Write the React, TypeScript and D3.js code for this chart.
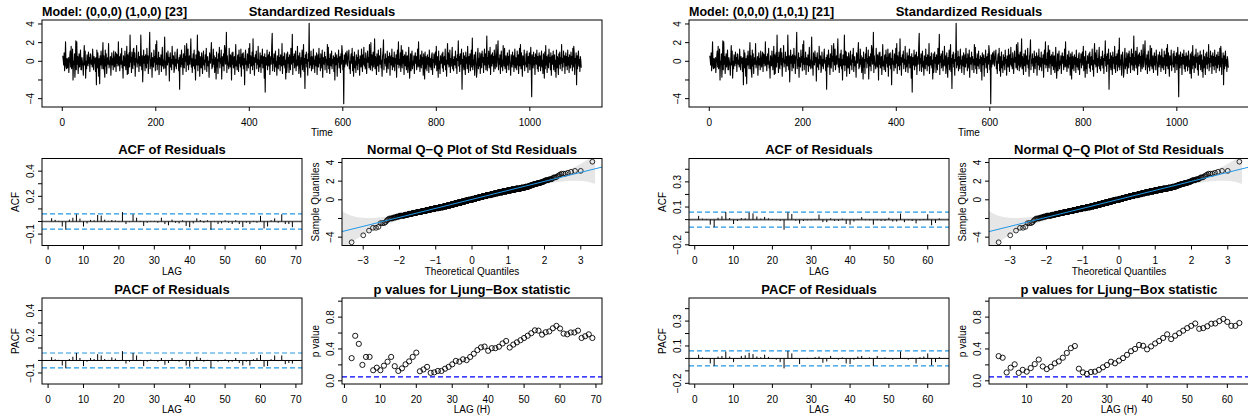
import React from 'react';
import * as d3 from 'd3';

// --- data (two sarima fits, residual strips look the same) ---
const stdResiduals: number[] = [
  0.6, 0.2, -0.4, 0.9, -1.0, 0.1, 2.1, -0.5, -0.8, 0.3, -0.7, 0.0, 0.4, -1.2, -0.2, 0.5, 1.1, -0.6, 1.6, -0.8, -0.1, 1.3, -2.0, 0.0, -0.3, 0.8, -1.7, -0.2, 2.2, -0.9,
  2.1, -0.3, 0.5, -1.3, 0.1, 0.8, -0.6, 0.2, 1.2, -0.9, -0.9, 0.4, 0.0, -0.5, -1.5, 0.3, 1.7, -0.4, 1.1, -1.8, 0.0, -0.8, 0.7, -0.1, -0.5, 1.0, -0.2, 0.4, -1.1, 0.8,
  0.7, -0.3, 0.1, -0.6, 1.3, 0.0, -0.9, 0.5, -0.2, 0.3, -1.1, 0.4, -2.5, 1.2, -0.7, 0.9, -0.1, -1.6, 0.3, -2.4, 0.6, -0.4, 1.1, 0.0, -0.8, 0.5, 2.0, -0.8, 0.6, -1.0,
  -1.7, 1.2, -0.5, 0.8, -1.3, 0.1, 0.4, -0.3, 1.9, -0.7, -0.3, -0.1, 0.5, -1.5, 0.0, 0.9, -0.4, 0.3, -0.9, 1.1, 0.0, -0.6, 0.4, 1.0, -1.1, 0.8, -0.2, 0.7, -0.5, 2.1,
  -0.4, 0.5, -1.0, 0.1, 0.8, -0.3, 1.4, -0.7, 0.0, -1.8, 0.6, -0.2, -0.5, 1.1, 0.0, -0.9, 0.3, 1.6, -1.4, 0.7, -1.3, 0.2, 0.9, -0.6, 2.8, -0.1, 0.4, -1.2, 1.0, -0.3,
  -0.8, 1.3, 1.4, -0.4, 0.9, -1.6, 0.3, -0.1, 1.7, -0.6, 0.1, -0.2, 1.0, -1.1, 0.5, 0.0, -0.5, 2.8, 0.4, -0.9, 0.6, -2.2, -0.3, 1.2, -0.2, 0.5, -1.0, 0.7, 0.0, -0.7,
  1.4, -0.2, 0.6, -1.3, 0.1, 0.8, 3.1, -0.8, 0.2, -0.5, 0.9, -1.7, 0.4, 0.0, -0.6, 1.2, -0.1, 0.5, -1.0, 1.8, -0.3, 2.2, -0.9, 0.3, -0.3, 1.0, -1.4, 0.4, 0.0, -0.4,
  0.7, -1.1, 0.2, 1.5, -0.5, 0.1, -0.8, 0.5, 2.6, -0.7, 0.0, -1.5, 0.9, -0.2, -0.4, 1.1, -0.1, 0.4, -2.1, 0.3, 0.9, -0.6, 0.2, -0.9, 1.6, 0.0, -0.3, 0.6, -1.2, -0.8,
  1.0, -0.5, 0.2, -0.8, 0.6, 1.3, -0.2, 0.1, -1.0, 0.4, -3.0, 0.7, 0.0, -0.6, 1.2, -0.3, 0.3, -1.4, 0.8, -0.1, -0.7, 1.7, 0.0, 0.5, -1.1, 1.9, 0.8, -0.4, 1.3, -0.9,
  0.1, 0.6, -0.3, 0.9, 2.4, -0.6, 0.3, -1.2, 0.0, 0.8, -0.5, 1.2, -0.8, 0.2, -2.0, 0.7, -0.2, -0.4, 2.8, -1.0, 1.1, -0.4, 1.0, -1.6, 0.5, 0.0, -0.7, 0.9, -0.1, -1.3,
  0.4, 1.1, -0.4, 0.1, -0.9, 0.7, -0.1, 1.4, -1.1, 0.2, 0.5, -0.5, 0.0, -1.7, 0.9, 0.3, -0.2, 1.0, 2.0, -0.8, 0.2, -0.6, 1.3, -0.3, 0.6, -1.2, -0.1, 0.4, -1.9, 1.0,
  -0.6, 0.2, -1.3, 0.8, 0.0, 1.5, -0.7, 0.3, -0.2, 1.2, -1.9, 0.5, 0.1, -0.5, 0.8, -1.0, 1.7, 1.3, -0.3, -0.1, 3.1, -1.2, 0.6, -0.4, -0.2, -0.8, 1.4, 0.0, -0.6, 0.7,
  0.3, -2.0, 0.9, -0.3, 1.0, -0.7, 0.1, 0.5, -1.4, 0.2, 1.8, -0.5, 0.0, -0.9, 0.6, 0.7, -1.1, 1.2, -0.2, 0.4, -0.6, 1.3, -1.6, -0.1, 0.8, -0.4, 0.9, -0.8, 0.3, -2.5,
  0.5, 1.2, -0.3, 0.0, -1.0, 0.8, 0.3, -0.7, 1.4, -0.2, 1.9, -1.3, 0.6, -0.1, -0.5, 1.0, -0.9, 2.4, -0.4, 0.4, -1.5, 0.1, 0.7, -0.1, 1.1, -0.8, 0.2, -0.3, 1.6, -1.1,
  0.1, -0.6, 0.9, 0.3, -1.2, 0.6, -0.2, 1.3, -0.7, 0.0, 0.5, -1.8, 0.8, -3.3, 0.4, -0.1, -0.4, 1.2, -0.9, 0.2, 0.7, -0.5, 1.0, -1.4, 0.0, 0.5, -0.3, 1.7, 3.0, -1.0,
  0.3, -0.2, 0.8, -1.1, 0.2, 1.1, -0.6, 0.0, -1.5, 0.6, -0.1, -0.8, 1.3, -0.3, 0.4, -1.0, 0.7, 0.0, -0.5, 1.9, -1.3, 0.2, 0.5, -0.4, 0.9, -0.7, 0.1, -1.9, 0.8, -1.2,
  -0.6, 1.0, -0.2, 0.4, -1.2, 0.7, 0.0, -0.9, 1.4, -0.3, 0.3, 2.9, -1.4, 0.5, -0.1, 0.8, -0.7, 0.2, 1.1, -1.0, 0.1, -0.5, 1.6, -0.4, 0.6, -1.3, 0.0, 0.9, -0.8, -1.7,
  0.4, -0.3, 1.2, -0.9, 0.1, 1.8, -1.1, 0.3, -2.9, 0.7, -0.2, 1.0, -0.6, 0.2, -1.5, 0.8, 0.0, 4.08, -0.7, 0.4, -0.4, 1.1, -1.0, 0.5, -0.1, -0.8, 1.3, -0.3, 0.1, -1.2,
  0.6, 0.2, -0.5, 0.9, -1.4, 0.1, 0.7, -0.6, 1.4, -0.2, 0.3, -1.0, 0.8, 0.0, -0.7, 1.2, -1.7, 0.4, -0.1, -0.3, 1.0, -0.9, 0.5, -0.1, 0.2, -1.2, 1.8, -0.4, 1.5, -0.8,
  0.3, -1.3, 0.8, 0.0, -0.5, 1.1, -0.8, 0.2, -0.2, 0.6, -1.1, 0.4, -2.0, 0.9, -0.4, 0.1, 0.7, -1.6, 0.3, -0.1, 1.2, -0.7, 0.0, 0.5, -1.2, 0.8, -0.3, 1.7, 1.0, -0.9,
  0.1, -4.55, 0.7, -0.6, 0.3, 0.9, -0.3, 0.5, 1.1, -0.5, 0.2, 0.6, 1.2, -0.8, 0.0, -1.3, 0.4, 0.8, -0.2, 1.4, -1.0, 0.5, -1.6, -0.1, 1.0, -0.7, 0.0, -1.2, 0.7, -0.4,
  0.4, -0.9, 1.2, -0.2, 0.2, -1.5, 0.6, 0.1, -0.6, 1.3, 0.0, -1.1, 0.7, -0.3, 1.5, -0.5, 0.3, -0.8, 0.9, -0.1, -1.3, 0.2, 1.1, -0.1, 0.4, -0.7, 1.8, -0.4, -0.9, 2.0,
  -0.4, 0.7, -1.0, 0.4, 1.0, -0.6, 0.2, 2.4, -0.8, 0.5, 0.0, -1.4, 0.8, -0.1, -0.5, 1.2, -1.1, 0.3, 0.6, -0.3, 1.4, -0.7, 0.1, -1.6, 0.5, 0.9, 2.3, -0.9, 0.2, -0.2,
  0.8, -0.5, 0.3, -1.2, 1.1, 0.1, -0.8, 0.5, -0.1, 0.9, -1.5, 0.2, 0.6, -0.4, 1.3, -0.9, 0.4, 0.0, -0.6, 1.0, -1.0, 0.3, -0.2, 0.7, -1.7, 0.5, 1.2, -0.3, 2.1, -0.7,
  0.2, -0.4, 0.9, -1.1, 1.7, 0.1, -0.7, 1.2, -0.2, 0.5, -1.4, 0.7, 0.0, -0.5, 1.0, -0.9, 0.3, 0.6, -1.2, -0.1, 1.5, -0.6, -1.8, -0.3, 0.8, -1.0, 0.4, 1.1, -0.8, 0.0,
  -0.4, 0.6, -1.3, 0.3, 0.9, -0.2, 0.5, -0.9, 0.2, 1.3, -0.6, 2.1, -0.5, 0.1, -1.1, 0.7, 0.0, -0.7, 1.1, -0.3, 0.4, -1.5, 0.8, -0.1, -1.9, 1.0, -0.8, 0.5, 0.0, -1.0,
  0.7, -0.3, 0.4, -1.2, 1.2, 0.1, -0.6, 0.3, -0.9, 0.6, 0.9, -1.4, 0.2, -0.1, 0.8, -0.7, 0.4, 1.0, -0.4, 1.6, -1.0, 0.1, 0.5, -1.7, 1.1, -0.8, 0.0, -1.3, 0.6, -0.2,
  -0.2, 0.8, -0.7, 1.0, -1.1, 0.2, 0.5, -0.4, 1.3, -0.9, 0.1, -1.6, 0.7, 1.9, -0.3, 0.9, -0.6, 0.0, 1.2, -1.2, 0.3, -0.5, 0.6, 1.5, -0.8, 0.2, -1.0, 0.5, -0.1, -0.4,
  1.1, -0.7, 0.3, -1.3, 0.7, 0.1, 2.2, -0.5, 0.5, -1.1, 0.8, -0.3, 0.4, 1.3, -3.0, 0.2, -0.6, 0.9, -0.9, 0.6, 0.0, -1.4, 1.0, -0.2, 0.4, -0.8, 1.6, -0.1, -1.2, 0.5,
  -0.3, 0.8, -1.0, 0.3, 1.2, -0.6, 2.5, -0.9, 0.1, -0.4, 0.7, -1.5, 0.5, 1.0, -0.2, -1.7, -1.1, 0.6, 1.4, -0.8, 0.3, -0.5, 0.9, -1.3, 0.1, 0.8, -0.7, 1.1, -0.1, 0.4,
  -1.2, 0.5, 1.3, -0.4, 0.8, -0.9, 0.2, 2.7, -1.0, 0.4, -0.3, 1.1, -0.7, 0.0, 1.5, -1.4, 0.3, 0.7, -0.5, 0.9, -0.2, 0.5, -1.1, 1.2, 0.1, -0.8, 0.6, 1.8, -0.6, -0.1,
  1.0, 2.2, -0.9, 0.3, -0.3, 0.7, -1.3, 0.4, 1.1, -0.6, 0.1, -1.0, 1.7, 0.2, -0.5, 1.4, -0.8, 0.0, 0.6, -1.2, -0.3, 0.9, -0.4, 0.5, -0.9, 1.2, -0.1, -0.2, -1.5, 0.7,
  0.1, -0.6, 1.0, -0.3, 0.6, -1.1, 0.3, 1.3, -0.7, 0.4, 0.0, -0.9, 1.1, -0.4, 0.7, -1.3, 0.2, 1.4, -0.5, 1.8, -0.8, 0.9, -0.1, -1.6, 0.6, 0.2, -0.4, 1.2, -1.0, -0.2,
  -0.3, 0.8, -0.6, 1.1, 0.0, -1.2, 0.5, -0.2, 0.9, -0.9, 0.3, 1.5, -0.5, -3.8, 0.7, 0.2, -0.7, 1.0, -0.4, 0.4, -1.4, 0.8, 0.1, -0.3, 1.2, -0.8, 0.5, -1.1, 0.3, 0.9,
  -0.5, 0.6, -1.0, 0.2, 1.1, -0.6, 0.1, -1.3, 0.8, 0.4, -1.8, 1.0, -0.8, 1.7, -0.4, 0.5, -1.2, 0.2, 0.7, -0.7, 1.3, -0.1, 0.4, -0.9, 0.9, -1.5, 0.3, 0.6, -0.3, 1.1,
  -0.9, 0.3, 0.7, -1.1, 0.1, -1.7, 1.2, -0.7, 0.5, 0.0, -1.4, 0.8, -0.3, 1.0, -0.8, 0.4, -0.2, 1.8, -1.0, 0.3, -0.6, 1.1, -0.1, 0.6, -1.3, 0.2, 0.9, -0.5, 0.5, -0.9,
  1.2, -0.4, 0.4, -1.2, 0.7, 0.0, -0.7, 1.0, -0.3, 0.5, -1.0, 1.4, -0.6, 1.6, 0.8, -1.4, 0.3, -0.2, 0.9, -2.5, 0.6, -0.8, 0.4, 1.1, -0.5, 0.2, -1.1, 0.5, 0.1, -0.7,
];

// left model (1,0,0)[23]: lags 1..69
const acfA = [0.026, 0.013, 0.005, -0.04, -0.065, 0.015, 0.03, 0.057, 0.023, -0.04, -0.015, 0.013, 0.01, 0.052, 0.047, 0.015, 0.005, 0.012, 0.008, -0.005,
  0.075, -0.02, -0.005, 0.057, 0.03, 0.005, -0.035, -0.01, 0.005, 0.005, -0.01, 0.03, -0.02, -0.03, 0.015, -0.01, -0.015, 0.01, -0.035, -0.045,
  -0.015, 0.025, 0.012, -0.01, 0.01, -0.065, -0.005, -0.02, -0.015, 0.01, -0.01, -0.02, 0.01, -0.02, -0.045, -0.01, -0.02, 0.005, -0.01, 0.045,
  -0.055, -0.04, 0.01, 0.025, -0.01, 0.057, -0.02, -0.02, -0.045];
const pacfA = [0.026, 0.01, 0.005, -0.04, -0.063, 0.012, 0.03, 0.06, 0.02, -0.045, -0.01, 0.02, 0.012, 0.05, 0.04, 0.012, 0.005, 0.025, 0.015, -0.005,
  0.075, -0.025, -0.01, 0.06, 0.04, 0.005, -0.045, -0.01, 0.008, -0.005, -0.01, 0.02, -0.035, -0.02, 0.02, -0.005, -0.01, 0.008, -0.04, -0.05,
  -0.01, 0.03, 0.02, -0.01, 0.005, -0.06, -0.005, -0.01, -0.005, 0.01, -0.015, -0.01, 0.02, -0.02, -0.04, -0.01, -0.04, 0.01, 0.02, 0.045,
  -0.05, -0.045, 0.01, 0.04, -0.005, 0.04, -0.03, -0.02, -0.025];
// Ljung-Box p values, lags 2..69
const lbA = [0.285, 0.565, 0.464, 0.2, 0.3, 0.3, 0.133, 0.165, 0.133, 0.19, 0.24, 0.3, 0.184, 0.124, 0.156, 0.207, 0.244, 0.3, 0.354,
  0.12, 0.143, 0.175, 0.1, 0.106, 0.124, 0.124, 0.152, 0.175, 0.207, 0.25, 0.24, 0.27, 0.26, 0.3, 0.34, 0.386, 0.42, 0.43, 0.377,
  0.41, 0.41, 0.428, 0.469, 0.5, 0.418, 0.455, 0.483, 0.51, 0.538, 0.566, 0.598, 0.634, 0.63, 0.58, 0.61, 0.62, 0.66, 0.69, 0.657,
  0.593, 0.584, 0.607, 0.607, 0.63, 0.538, 0.56, 0.584, 0.538];

// right model (1,0,1)[21]: lags 1..63
const acfB = [0.03, 0.008, 0.005, -0.04, -0.06, 0.015, 0.027, 0.06, 0.013, -0.035, -0.01, 0.012, 0.01, 0.055, 0.05, 0.025, 0.008, 0.022, 0.01, 0.005,
  -0.005, -0.01, -0.08, 0.058, 0.045, -0.008, -0.032, -0.01, -0.005, -0.005, 0.005, 0.04, -0.02, -0.02, 0.01, -0.01, -0.01, 0.008, -0.035, -0.04,
  -0.015, 0.005, 0.02, -0.005, -0.005, -0.04, -0.005, -0.01, -0.01, 0.015, -0.015, -0.015, 0.048, -0.02, -0.005, -0.01, -0.03, -0.005, 0.005, 0.042,
  -0.045, -0.027, 0.01];
const pacfB = [0.03, 0.008, 0.003, -0.04, -0.06, 0.015, 0.02, 0.055, 0.015, -0.03, -0.005, 0.02, 0.025, 0.045, 0.035, 0.015, 0.01, 0.03, 0.012, -0.005,
  -0.01, -0.03, -0.08, 0.06, 0.04, 0.003, -0.045, -0.005, 0.005, 0.003, 0.01, 0.015, -0.035, -0.025, 0.02, -0.005, -0.01, 0.008, -0.04, -0.045,
  -0.01, 0.015, 0.02, -0.005, 0.008, -0.06, 0.02, -0.005, 0.008, -0.005, -0.01, -0.005, 0.055, -0.005, -0.01, 0.005, -0.04, 0.01, 0.015, 0.04,
  -0.055, -0.03, 0.01];
// Ljung-Box p values, lags 3..63
const lbB = [0.31, 0.29, 0.105, 0.165, 0.207, 0.1, 0.138, 0.115, 0.16, 0.21, 0.267, 0.18, 0.147, 0.175, 0.22, 0.244, 0.29, 0.35, 0.41, 0.437,
  0.152, 0.106, 0.087, 0.11, 0.115, 0.138, 0.17, 0.198, 0.24, 0.22, 0.253, 0.285, 0.326, 0.372, 0.4, 0.45, 0.44, 0.395, 0.432, 0.469,
  0.5, 0.538, 0.584, 0.524, 0.566, 0.598, 0.63, 0.662, 0.69, 0.72, 0.653, 0.662, 0.685, 0.717, 0.72, 0.75, 0.777, 0.74, 0.69, 0.69, 0.726];

const timeTicks = [0, 200, 400, 600, 800, 1000];
const residTicks = [-4, -2, 0, 2, 4];
const residLabels = [-4, 0, 2, 4];
const qqXTicks = [-3, -2, -1, 0, 1, 2, 3];
const pvalTicks = [0, 0.2, 0.4, 0.6, 0.8, 1];
const pvalLabels = [0, 0.4, 0.8];
const acfTicksA = [-0.1, 0, 0.1, 0.2, 0.3, 0.4];
const acfLabelsA = [-0.1, 0.2, 0.4];
const acfTicksB = [-0.2, -0.1, 0, 0.1, 0.2, 0.3, 0.4];
const acfLabelsB = [-0.2, 0.1, 0.3];
const lagTicksA = [0, 10, 20, 30, 40, 50, 60, 70];
const lagTicksB = [0, 10, 20, 30, 40, 50, 60];
const lbTicksB = [10, 20, 30, 40, 50, 60];

const FONT = '"Liberation Sans", Arial, Helvetica, sans-serif';
const R_BLUE = '#2297E6';

// --- helpers ---
const ext = (lo: number, hi: number): [number, number] => { const d = (hi - lo) * 0.04; return [lo - d, hi + d]; };

// Acklam inverse normal
function qnorm(p: number): number {
  const a = [-39.69683028665376, 220.9460984245205, -275.9285104469687, 138.357751867269, -30.66479806614716, 2.506628277459239];
  const b = [-54.47609879822406, 161.5858368580409, -155.6989798598866, 66.80131188771972, -13.28068155288572];
  const c = [-0.007784894002430293, -0.3223964580411365, -2.400758277161838, -2.549732539343734, 4.374664141464968, 2.938163982698783];
  const d = [0.007784695709041462, 0.3224671290700398, 2.445134137142996, 3.754408661907416];
  const tail = (q: number) => (((((c[0] * q + c[1]) * q + c[2]) * q + c[3]) * q + c[4]) * q + c[5]) / ((((d[0] * q + d[1]) * q + d[2]) * q + d[3]) * q + 1);
  if (p < 0.02425) return tail(Math.sqrt(-2 * Math.log(p)));
  if (p > 1 - 0.02425) return -tail(Math.sqrt(-2 * Math.log(1 - p)));
  const q = p - 0.5, r = q * q;
  return (((((a[0] * r + a[1]) * r + a[2]) * r + a[3]) * r + a[4]) * r + a[5]) * q / (((((b[0] * r + b[1]) * r + b[2]) * r + b[3]) * r + b[4]) * r + 1);
}
const dnorm = (z: number) => Math.exp(-z * z / 2) / Math.sqrt(2 * Math.PI);
function pnorm(z: number): number {
  const x = Math.abs(z) / Math.SQRT2, t = 1 / (1 + 0.3275911 * x);
  const erf = 1 - (((((1.061405429 * t - 1.453152027) * t) + 1.421413741) * t - 0.284496736) * t + 0.254829592) * t * Math.exp(-x * x);
  return z >= 0 ? 0.5 * (1 + erf) : 0.5 * (1 - erf);
}

type Box = { x0: number; x1: number; y0: number; y1: number };

function Frame({ b, title, xs, xTicks, xLabel, ys, yTicks, yLabels, yFmt, yLabel }: any) {
  return (
    <g fontFamily={FONT} fill="#000">
      <rect x={b.x0} y={b.y0} width={b.x1 - b.x0} height={b.y1 - b.y0} fill="none" stroke="#000" strokeWidth={1} />
      {xTicks.map((t: number) => <line key={'xt' + t} x1={xs(t)} x2={xs(t)} y1={b.y1} y2={b.y1 + 4} stroke="#000" />)}
      {xTicks.map((t: number) => <text key={'xl' + t} x={xs(t)} y={b.y1 + 18.5} fontSize={10} textAnchor="middle">{d3.format('d')(t)}</text>)}
      <text x={(b.x0 + b.x1) / 2} y={b.y1 + 29} fontSize={10} textAnchor="middle">{xLabel}</text>
      {yTicks.map((t: number) => <line key={'yt' + t} x1={b.x0 - 4} x2={b.x0} y1={ys(t)} y2={ys(t)} stroke="#000" />)}
      {yLabels.map((t: number) => (
        <text key={'yl' + t} transform={`translate(${b.x0 - 8.5},${ys(t)}) rotate(-90)`} fontSize={10} textAnchor="middle">{yFmt(t)}</text>
      ))}
      {yLabel ? <text transform={`translate(${b.x0 - 23.5},${(b.y0 + b.y1) / 2}) rotate(-90)`} fontSize={10} textAnchor="middle">{yLabel}</text> : null}
      <text x={(b.x0 + b.x1) / 2} y={b.y0 - 4.5} fontSize={13} fontWeight="bold" textAnchor="middle">{title}</text>
    </g>
  );
}

function CorrPlot({ b, vals, title, yLabel, yTicks, yLabels, lagTicks, zeroColor, zeroWidth, n, clip }: any) {
  const lags = vals.map((_: number, i: number) => i + 1);
  const xs = d3.scaleLinear().domain(ext(1, lags.length)).range([b.x0, b.x1]);
  const lo = (d3.min(vals) as number) - 0.1, hi = Math.min(1, (d3.max(vals) as number) + 0.4);
  const ys = d3.scaleLinear().domain(ext(lo, hi)).range([b.y1, b.y0]);
  const L = 2 / Math.sqrt(n);
  return (
    <g>
      <g clipPath={`url(#${clip})`}>
        <line x1={b.x0} x2={b.x1} y1={ys(0)} y2={ys(0)} stroke={zeroColor} strokeWidth={zeroWidth} />
        {[L, -L].map((h) => <line key={h} x1={b.x0} x2={b.x1} y1={ys(h)} y2={ys(h)} stroke={R_BLUE} strokeWidth={1.2} strokeDasharray="5,3" />)}
        {vals.map((v: number, i: number) => <line key={i} x1={xs(lags[i])} x2={xs(lags[i])} y1={ys(0)} y2={ys(v)} stroke="#000" strokeWidth={1} />)}
      </g>
      <Frame b={b} title={title} xs={xs} xTicks={lagTicks} xLabel="LAG" ys={ys} yTicks={yTicks} yLabels={yLabels} yFmt={d3.format('.1f')} yLabel={yLabel} />
    </g>
  );
}

function Panel({ ox, id, model, acf, pacf, lb, lbStart, acfTicks, acfLabels, lagTicks, lbTicks }: any) {
  const n = stdResiduals.length;
  const top: Box = { x0: 42, x1: 602, y0: 20, y1: 107 };
  const midL: Box = { x0: 42, x1: 302, y0: 158.5, y1: 245.5 };
  const midR: Box = { x0: 342, x1: 602, y0: 158.5, y1: 245.5 };
  const botL: Box = { x0: 42, x1: 302, y0: 298, y1: 384 };
  const botR: Box = { x0: 342, x1: 602, y0: 298, y1: 384 };

  // standardized residuals strip
  const rExt = d3.extent(stdResiduals) as [number, number];
  const tx = d3.scaleLinear().domain(ext(1, n)).range([top.x0, top.x1]);
  const ty = d3.scaleLinear().domain(ext(rExt[0], rExt[1])).range([top.y1, top.y0]);
  const residPath = d3.line<number>().x((_, i) => tx(i + 1)).y((d) => ty(d))(stdResiduals) || '';

  // normal QQ
  const sorted = stdResiduals.slice().sort((a, c) => a - c);
  const zq = sorted.map((_, i) => qnorm((i + 1 - 0.5) / n));
  const q25 = d3.quantile(sorted, 0.25) as number, q75 = d3.quantile(sorted, 0.75) as number;
  const slope = (q75 - q25) / (qnorm(0.75) - qnorm(0.25));
  const icpt = q25 - slope * qnorm(0.25);
  const qx = d3.scaleLinear().domain(ext(zq[0], zq[n - 1])).range([midR.x0, midR.x1]);
  const qy = d3.scaleLinear().domain(ext(sorted[0], sorted[n - 1])).range([midR.y1, midR.y0]);
  const zz = 3.8;
  const grid = d3.range(qx.domain()[0], zq[n - 1] + 0.08, 0.02);
  const band = d3.area<number>()
    .x((z) => qx(z))
    .y0((z) => { const P = pnorm(z); return qy(icpt + slope * z - zz * (slope / dnorm(z)) * Math.sqrt(P * (1 - P) / n)); })
    .y1((z) => { const P = pnorm(z); return qy(icpt + slope * z + zz * (slope / dnorm(z)) * Math.sqrt(P * (1 - P) / n)); })(grid) || '';

  // Ljung-Box
  const lbLags = lb.map((_: number, i: number) => lbStart + i);
  const lx = d3.scaleLinear().domain(ext(lbLags[0], lbLags[lbLags.length - 1])).range([botR.x0, botR.x1]);
  const ly = d3.scaleLinear().domain(ext(0, 1)).range([botR.y1, botR.y0]);

  const c = (k: string) => `${id}-${k}`;
  return (
    <g transform={`translate(${ox},0)`}>
      <defs>
        {([['top', top], ['midL', midL], ['midR', midR], ['botL', botL], ['botR', botR]] as [string, Box][]).map(([k, b]) => (
          <clipPath key={k} id={c(k)}><rect x={b.x0} y={b.y0} width={b.x1 - b.x0} height={b.y1 - b.y0} /></clipPath>
        ))}
      </defs>

      <g clipPath={`url(#${c('top')})`}>
        <path d={residPath} fill="none" stroke="#000" strokeWidth={1.1} strokeLinejoin="round" />
      </g>
      <Frame b={top} title="Standardized Residuals" xs={tx} xTicks={timeTicks} xLabel="Time" ys={ty} yTicks={residTicks} yLabels={residLabels} yFmt={d3.format('d')} yLabel="" />
      <text x={top.x0} y={top.y0 - 4.5} fontFamily={FONT} fontSize={12.5} fontWeight="bold">{model}</text>

      <CorrPlot b={midL} vals={acf} title="ACF of Residuals" yLabel="ACF" yTicks={acfTicks} yLabels={acfLabels} lagTicks={lagTicks} zeroColor="#555" zeroWidth={1.6} n={n} clip={c('midL')} />
      <CorrPlot b={botL} vals={pacf} title="PACF of Residuals" yLabel="PACF" yTicks={acfTicks} yLabels={acfLabels} lagTicks={lagTicks} zeroColor="#000" zeroWidth={1} n={n} clip={c('botL')} />

      <g clipPath={`url(#${c('midR')})`}>
        <path d={band} fill="#E6E6E6" stroke="none" />
        {sorted.map((v, i) => <circle key={i} cx={qx(zq[i])} cy={qy(v)} r={2.4} fill="none" stroke="#000" strokeWidth={0.8} />)}
        <line x1={midR.x0} x2={midR.x1} y1={qy(icpt + slope * qx.invert(midR.x0))} y2={qy(icpt + slope * qx.invert(midR.x1))} stroke={R_BLUE} strokeWidth={1} />
      </g>
      <Frame b={midR} title="Normal Q−Q Plot of Std Residuals" xs={qx} xTicks={qqXTicks} xLabel="Theoretical Quantiles" ys={qy} yTicks={residTicks} yLabels={residLabels} yFmt={d3.format('d')} yLabel="Sample Quantiles" />

      <g clipPath={`url(#${c('botR')})`}>
        <line x1={botR.x0} x2={botR.x1} y1={ly(0.05)} y2={ly(0.05)} stroke="#0000FF" strokeWidth={1.2} strokeDasharray="5,3" />
        {lb.map((p: number, i: number) => <circle key={i} cx={lx(lbLags[i])} cy={ly(p)} r={2.6} fill="none" stroke="#000" strokeWidth={0.9} />)}
      </g>
      <Frame b={botR} title="p values for Ljung−Box statistic" xs={lx} xTicks={lbTicks} xLabel="LAG (H)" ys={ly} yTicks={pvalTicks} yLabels={pvalLabels} yFmt={d3.format('.1f')} yLabel="p value" />
    </g>
  );
}

export default function App() {
  return (
    <svg width={1248} height={416} style={{ position: 'absolute', left: 0, top: 0, background: '#fff' }}>
      <rect width={1248} height={416} fill="#fff" />
      <Panel ox={0} id="pa" model="Model: (0,0,0) (1,0,0) [23]" acf={acfA} pacf={pacfA} lb={lbA} lbStart={2}
        acfTicks={acfTicksA} acfLabels={acfLabelsA} lagTicks={lagTicksA} lbTicks={lagTicksA} />
      <Panel ox={647} id="pb" model="Model: (0,0,0) (1,0,1) [21]" acf={acfB} pacf={pacfB} lb={lbB} lbStart={3}
        acfTicks={acfTicksB} acfLabels={acfLabelsB} lagTicks={lagTicksB} lbTicks={lbTicksB} />
    </svg>
  );
}
